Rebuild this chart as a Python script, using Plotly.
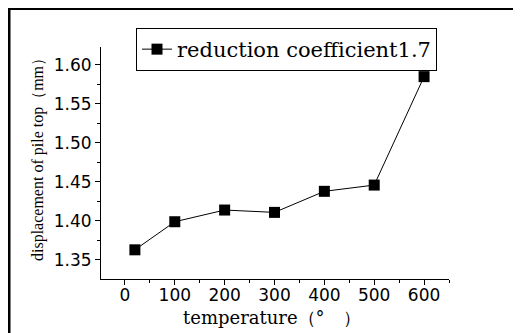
import plotly.graph_objects as go

temperature = [20, 100, 200, 300, 400, 500, 600]
displacement = [1.363, 1.399, 1.414, 1.411, 1.438, 1.446, 1.585]
series_name = "reduction coefficient1.7"
x_title = "temperature（°　）"
y_title = "displacement of pile top（mm）"

OFF = 8  # page body margin
W, H = 521 - 2 * OFF, 325
# plot area in screen pixels: x 101..449, y 47..279
L, R, T = 101 - OFF, (OFF + W) - 449, 47 - OFF
B = (OFF + H) - 279
pw, ph = W - L - R, H - T - B

def px(sx):
    return (sx - OFF - L) / pw

def py(sy):
    return (H - B - (sy - OFF)) / ph

fig = go.Figure()
fig.add_trace(go.Scatter(
    x=temperature, y=displacement, mode="lines+markers", name=series_name,
    line=dict(color="black", width=1),
    marker=dict(symbol="square", size=11, color="black"),
))

fig.update_layout(
    width=W, height=H,
    margin=dict(l=L, r=R, t=T, b=B, autoexpand=False),
    paper_bgcolor="white", plot_bgcolor="white",
    showlegend=True,
    legend=dict(
        x=px(136), y=py(28), xanchor="left", yanchor="top",
        bordercolor="black", borderwidth=1, bgcolor="white",
        font=dict(family="DejaVu Serif", size=21, color="black"),
        itemwidth=30, tracegroupgap=0,
    ),
    xaxis=dict(
        range=[-48, 650], tick0=0, dtick=100, showgrid=False, zeroline=False,
        automargin=False, ticklabelstandoff=-4,
        showline=True, linecolor="black", linewidth=1,
        ticks="outside", ticklen=5, tickcolor="black",
        minor=dict(dtick=50, ticks="outside", ticklen=3, tickcolor="black"),
        tickfont=dict(family="DejaVu Sans", size=17, color="black"),
    ),
    yaxis=dict(
        range=[1.3256, 1.623], tick0=1.35, dtick=0.05, tickformat=".2f",
        showgrid=False, zeroline=False, automargin=False,
        showline=True, linecolor="black", linewidth=1,
        ticks="outside", ticklen=5, tickcolor="black",
        minor=dict(dtick=0.025, ticks="outside", ticklen=3, tickcolor="black"),
        tickfont=dict(family="DejaVu Sans", size=17, color="black"),
    ),
    annotations=[
        dict(text=y_title, textangle=-90, xref="paper", yref="paper",
             x=px(38), y=py(156), xanchor="center", yanchor="middle",
             showarrow=False,
             font=dict(family="Liberation Serif", size=16, color="black")),
        dict(text=x_title, xref="paper", yref="paper",
             x=px(272), y=py(317), xanchor="center", yanchor="middle",
             showarrow=False,
             font=dict(family="DejaVu Serif", size=18, color="black")),
    ],
    shapes=[
        dict(type="line", xref="paper", yref="paper", x0=px(9), x1=px(9),
             y0=py(7), y1=py(345), line=dict(color="black", width=3)),
        dict(type="line", xref="paper", yref="paper", x0=px(7.5), x1=px(540),
             y0=py(8.5), y1=py(8.5), line=dict(color="black", width=3)),
    ],
)

fig.write_html("out.html")
